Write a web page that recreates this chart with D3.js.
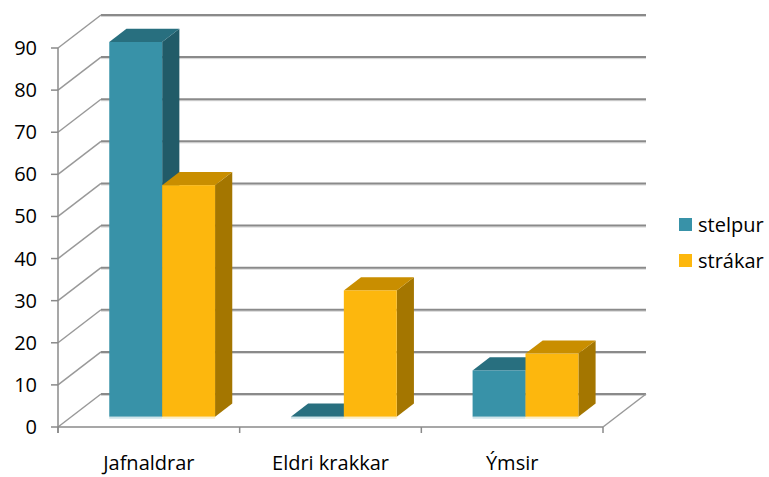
<!DOCTYPE html>
<html>
<head>
<meta charset="utf-8">
<script src="https://cdn.jsdelivr.net/npm/d3@7"></script>
<style>
  body { margin: 0; background: #fff; }
  svg text { font-family: "Open Sans", sans-serif; fill: #000; }
</style>
</head>
<body>
<svg id="chart" width="769" height="477"></svg>
<script>
const categories = ["Jafnaldrar", "Eldri krakkar", "Ýmsir"];
const seriesNames = ["stelpur", "strákar"];
const stelpur = [89, 0, 11];
const strakar = [55, 30, 15];
const yTicks = [0, 10, 20, 30, 40, 50, 60, 70, 80, 90];

const colors = {
  stelpur: { front: "#3892a8", top: "#286f7f", side: "#215b68", shine: "#cfe4ea" },
  "strákar": { front: "#fdb70d", top: "#c98e00", side: "#a47600", shine: "#fbeec8" }
};

const svg = d3.select("#chart");

// front plane of the plot, depth goes back up-right
const x = d3.scaleBand().domain(categories).range([58, 603]);
const y = d3.scaleLinear().domain([0, 90]).range([427, 48]);
const depth = { dx: 43, dy: -33 };
const off = t => [depth.dx * t, depth.dy * t];
const barFront = 0.31, barBack = 0.71;

const xSub = d3.scaleBand().domain(seriesNames)
  .range([0, x.bandwidth()]).paddingInner(0).paddingOuter(0.717);

const grid = svg.append("g");

// back wall gridlines + left wall diagonals
yTicks.forEach(v => {
  const [bx, by] = off(1);
  grid.append("line")
    .attr("x1", x.range()[0] + bx).attr("x2", x.range()[1] + bx)
    .attr("y1", y(v) + by + 1.5).attr("y2", y(v) + by + 1.5)
    .attr("stroke", "#d4d4d4").attr("stroke-width", 1);
  grid.append("line")
    .attr("x1", x.range()[0] + bx).attr("x2", x.range()[1] + bx)
    .attr("y1", y(v) + by).attr("y2", y(v) + by)
    .attr("stroke", "#8a8a8a").attr("stroke-width", 2);
  grid.append("line")
    .attr("x1", x.range()[0]).attr("y1", y(v))
    .attr("x2", x.range()[0] + bx).attr("y2", y(v) + by)
    .attr("stroke", "#999").attr("stroke-width", 1.5);
});

// floor right edge
grid.append("line")
  .attr("x1", x.range()[1]).attr("y1", y(0))
  .attr("x2", x.range()[1] + off(1)[0]).attr("y2", y(0) + off(1)[1])
  .attr("stroke", "#999").attr("stroke-width", 1.5);

// bars
const data = seriesNames.map((s, si) => ({ name: s, values: si === 0 ? stelpur : strakar }));
const bars = svg.append("g");
categories.forEach((c, ci) => {
  data.forEach(s => {
    const v = s.values[ci];
    const [fx, fy] = off(barFront);
    const [kx, ky] = off(barBack);
    const x0 = x(c) + xSub(s.name) + fx;
    const x1 = x0 + xSub.bandwidth();
    const yb = y(0) + fy;
    const yt = y(v) + fy;
    const ddx = kx - fx, ddy = ky - fy;
    const col = colors[s.name];
    const g = bars.append("g");
    if (v > 0) {
      g.append("polygon")
        .attr("points", [[x1, yt], [x1 + ddx, yt + ddy], [x1 + ddx, yb + ddy], [x1, yb]].join(" "))
        .attr("fill", col.side);
    }
    g.append("polygon")
      .attr("points", [[x0, yt], [x0 + ddx, yt + ddy], [x1 + ddx, yt + ddy], [x1, yt]].join(" "))
      .attr("fill", col.top);
    if (v > 0) {
      g.append("rect")
        .attr("x", x0).attr("y", yt)
        .attr("width", x1 - x0).attr("height", yb - yt)
        .attr("fill", col.front);
    }
    g.append("rect")
      .attr("x", x0).attr("y", yb)
      .attr("width", x1 - x0).attr("height", 2)
      .attr("fill", col.shine);
  });
});

// front axis lines
const axis = svg.append("g");
axis.append("line")
  .attr("x1", 58).attr("x2", 58).attr("y1", y(90)).attr("y2", y(0) + 6)
  .attr("stroke", "#8a8a8a").attr("stroke-width", 1.5);
axis.append("line")
  .attr("x1", x.range()[0]).attr("x2", x.range()[1]).attr("y1", y(0)).attr("y2", y(0))
  .attr("stroke", "#8a8a8a").attr("stroke-width", 1.5);

yTicks.forEach(v => {
  axis.append("line")
    .attr("x1", 51).attr("x2", 58).attr("y1", y(v)).attr("y2", y(v))
    .attr("stroke", "#8a8a8a").attr("stroke-width", 1.5);
  axis.append("text")
    .attr("x", 37).attr("y", y(v) + 7)
    .attr("text-anchor", "end")
    .attr("font-size", 20)
    .text(v);
});

const catTicks = categories.map(c => x(c)).concat([x.range()[1]]);
catTicks.forEach(px => {
  axis.append("line")
    .attr("x1", px).attr("x2", px).attr("y1", y(0)).attr("y2", y(0) + 6)
    .attr("stroke", "#8a8a8a").attr("stroke-width", 1.5);
});

categories.forEach(c => {
  axis.append("text")
    .attr("x", x(c) + x.bandwidth() / 2).attr("y", 470)
    .attr("text-anchor", "middle")
    .attr("font-size", 20)
    .text(c);
});

// legend
const legend = svg.append("g").attr("transform", "translate(679,218)");
seriesNames.forEach((s, i) => {
  const row = legend.append("g").attr("transform", `translate(0,${i * 36})`);
  row.append("rect").attr("width", 13).attr("height", 13).attr("fill", colors[s].front);
  row.append("text").attr("x", 19).attr("y", 13.5).attr("font-size", 20).text(s);
});
</script>
</body>
</html>
